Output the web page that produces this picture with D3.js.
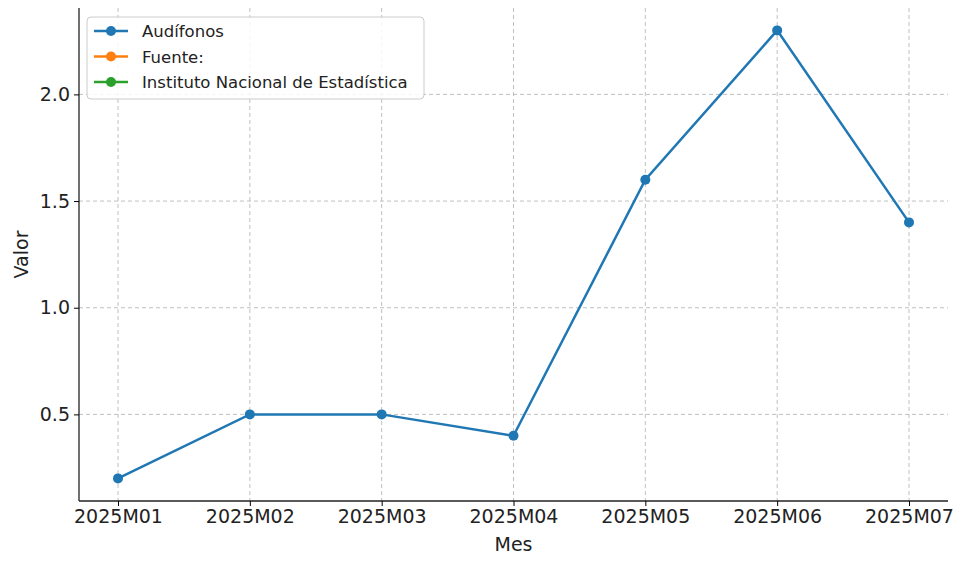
<!DOCTYPE html>
<html><head><meta charset="utf-8">
<script src="https://cdn.jsdelivr.net/npm/d3@7"></script>
<style>body{margin:0;background:#fff;font-family:"DejaVu Sans",sans-serif}</style>
</head><body><div id="chart"></div>
<script>
const months = ["2025M01","2025M02","2025M03","2025M04","2025M05","2025M06","2025M07"]
const audifonos = [0.2,0.5,0.5,0.4,1.6,2.3,1.4]
const yTicks = [0.5,1.0,1.5,2.0]
const legendItems = [
  {name:"Audífonos", color:"#1f77b4"},
  {name:"Fuente:", color:"#ff7f0e"},
  {name:"Instituto Nacional de Estadística", color:"#2ca02c"}
]

const width = 970, height = 567
const m = {left:79, right:22, top:8, bottom:66}
const svg = d3.select("#chart").append("svg").attr("width",width).attr("height",height)

const x = d3.scalePoint().domain(months).range([118,909])
const y = d3.scaleLinear().domain([0.094,2.405]).range([height-m.bottom, m.top])

// grid
svg.append("g").selectAll("line").data(months).join("line")
  .attr("x1",d=>x(d)).attr("x2",d=>x(d)).attr("y1",m.top).attr("y2",height-m.bottom)
  .attr("stroke","#b0b0b0").attr("stroke-dasharray","4,3").attr("stroke-width",0.8)
svg.append("g").selectAll("line").data(yTicks).join("line")
  .attr("x1",m.left).attr("x2",width-m.right).attr("y1",d=>y(d)).attr("y2",d=>y(d))
  .attr("stroke","#b0b0b0").attr("stroke-dasharray","4,3").attr("stroke-width",0.8)

const xAxis = svg.append("g").attr("transform",`translate(0,${height-m.bottom})`)
  .call(d3.axisBottom(x).tickSize(5).tickPadding(4))
xAxis.select(".domain").attr("d",`M${m.left},0H${width-m.right}`)
const yAxis = svg.append("g").attr("transform",`translate(${m.left},0)`)
  .call(d3.axisLeft(y).tickValues(yTicks).tickFormat(d3.format(".1f")).tickSize(5).tickPadding(4))
yAxis.select(".domain").attr("d",`M0,${m.top}V${height-m.bottom}`)
svg.selectAll(".tick text").attr("font-size",19).attr("fill","#222").attr("font-family","DejaVu Sans")
svg.selectAll(".domain").attr("stroke","#222").attr("stroke-width",1.3)

svg.append("text").attr("x",(m.left+width-m.right)/2).attr("y",551).attr("text-anchor","middle")
  .attr("font-size",19).attr("fill","#222").text("Mes")
svg.append("text").attr("transform",`translate(28,${(m.top+height-m.bottom)/2}) rotate(-90)`)
  .attr("text-anchor","middle").attr("font-size",19).attr("fill","#222").text("Valor")

svg.append("path").datum(audifonos)
  .attr("d",d3.line().x((d,i)=>x(months[i])).y(d=>y(d)))
  .attr("fill","none").attr("stroke","#1f77b4").attr("stroke-width",2.5)
svg.append("g").selectAll("circle").data(audifonos).join("circle")
  .attr("cx",(d,i)=>x(months[i])).attr("cy",d=>y(d)).attr("r",5).attr("fill","#1f77b4")

// legend
const lg = svg.append("g").attr("transform","translate(87,17)")
lg.append("rect").attr("width",337).attr("height",82).attr("rx",4)
  .attr("fill","#fff").attr("fill-opacity",0.85).attr("stroke","#ccc")
legendItems.forEach((d,i)=>{
  const g = lg.append("g").attr("transform",`translate(0,${14+i*25.5})`)
  g.append("line").attr("x1",7).attr("x2",41).attr("stroke",d.color).attr("stroke-width",2.5)
  g.append("circle").attr("cx",24).attr("r",5).attr("fill",d.color)
  g.append("text").attr("x",55).attr("y",6).attr("font-size",16.5).attr("fill","#222").text(d.name)
})
</script></body></html>
